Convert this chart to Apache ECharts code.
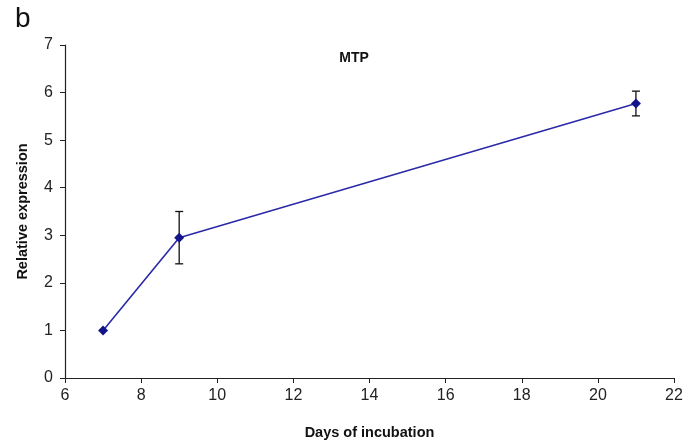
<!DOCTYPE html>
<html>
<head>
<meta charset="utf-8">
<script src="https://cdn.jsdelivr.net/npm/echarts@6/dist/echarts.min.js"></script>
<style>
  html, body { margin: 0; padding: 0; background: #fff; }
  #chart { width: 699px; height: 445px; }
</style>
</head>
<body>
<div id="chart"></div>
<script>
// MTP relative expression over incubation time
const days = [7, 9, 21];
const expression = [1.0, 2.95, 5.77];
const errorHalf = [0, 0.55, 0.26];
const xTicks = [6, 8, 10, 12, 14, 16, 18, 20, 22];
const yTicks = [0, 1, 2, 3, 4, 5, 6, 7];

const lineData = days.map((d, i) => [d, expression[i]]);
const errData = days.map((d, i) => [d, expression[i] - errorHalf[i], expression[i] + errorHalf[i]])
  .filter((e, i) => errorHalf[i] > 0);

const font = 'Liberation Sans, Arial, sans-serif';
const chart = echarts.init(document.getElementById('chart'));
chart.setOption({
  animation: false,
  backgroundColor: '#fff',
  title: [
    { text: 'b', left: 10, top: 0, textStyle: { fontFamily: font, fontSize: 28, fontWeight: 'normal', color: '#111' } },
    { text: 'MTP', left: 349, top: 46, textAlign: 'center', textStyle: { fontFamily: font, fontSize: 14, fontWeight: 'bold', color: '#111' } }
  ],
  grid: { left: 65, right: 25, top: 45, bottom: 67, containLabel: false },
  xAxis: {
    type: 'value',
    min: xTicks[0], max: xTicks[xTicks.length - 1], interval: 2,
    name: 'Days of incubation', nameLocation: 'middle', nameGap: 47,
    nameTextStyle: { fontFamily: font, fontSize: 14.5, fontWeight: 'bold', color: '#111' },
    axisLine: { show: true, lineStyle: { color: '#222', width: 1.2 } },
    axisTick: { show: true, inside: false, length: 5, lineStyle: { color: '#222' } },
    axisLabel: { fontFamily: font, fontSize: 16, color: '#222', margin: 10 },
    splitLine: { show: false }
  },
  yAxis: {
    type: 'value',
    min: yTicks[0], max: yTicks[yTicks.length - 1], interval: 1,
    name: 'Relative expression', nameLocation: 'middle', nameGap: 35,
    nameTextStyle: { fontFamily: font, fontSize: 14.5, fontWeight: 'bold', color: '#111' },
    axisLine: { show: true, lineStyle: { color: '#222', width: 1.2 } },
    axisTick: { show: true, inside: false, length: 5, lineStyle: { color: '#222' } },
    axisLabel: { fontFamily: font, fontSize: 16, color: '#222', margin: 12 },
    splitLine: { show: false }
  },
  series: [
    {
      type: 'line',
      data: lineData,
      symbol: 'diamond',
      symbolSize: 10,
      lineStyle: { color: '#2a2aa8', width: 1.6 },
      itemStyle: { color: '#14148a' },
      z: 3
    },
    {
      type: 'custom',
      data: errData,
      z: 2,
      renderItem: function (params, api) {
        const x = api.value(0);
        const lo = api.coord([x, api.value(1)]);
        const hi = api.coord([x, api.value(2)]);
        const cap = 4;
        const style = { stroke: '#111', lineWidth: 1.3 };
        return {
          type: 'group',
          children: [
            { type: 'line', shape: { x1: hi[0], y1: hi[1], x2: lo[0], y2: lo[1] }, style: style },
            { type: 'line', shape: { x1: hi[0] - cap, y1: hi[1], x2: hi[0] + cap, y2: hi[1] }, style: style },
            { type: 'line', shape: { x1: lo[0] - cap, y1: lo[1], x2: lo[0] + cap, y2: lo[1] }, style: style }
          ]
        };
      }
    }
  ]
});
</script>
</body>
</html>
